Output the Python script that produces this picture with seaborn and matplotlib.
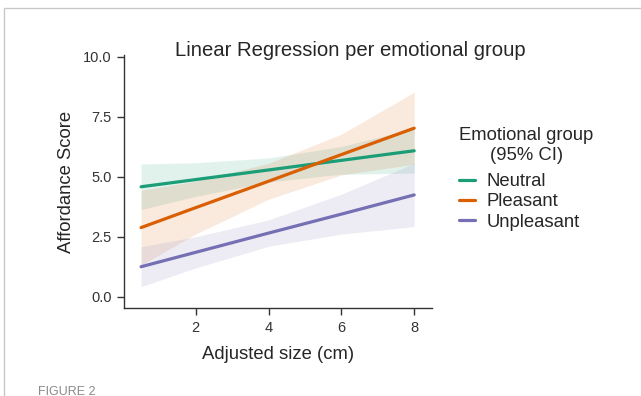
import numpy as np
import pandas as pd
import matplotlib
matplotlib.use("Agg")
import matplotlib.pyplot as plt
from matplotlib.patches import Rectangle
import seaborn as sns

# fitted lines
GROUPS = ["Neutral", "Pleasant", "Unpleasant"]
X_FIT = [0.5, 2, 4, 6, 8]
NEUTRAL_FIT = [4.58, 4.88, 5.28, 5.68, 6.08]
PLEASANT_FIT = [2.88, 3.71, 4.81, 5.92, 7.02]
UNPLEASANT_FIT = [1.25, 1.85, 2.65, 3.44, 4.24]

# 95% CI bounds at the same x positions
NEUTRAL_LO = [3.63, 4.18, 4.78, 5.10, 5.15]
NEUTRAL_HI = [5.53, 5.58, 5.78, 6.26, 7.01]
PLEASANT_LO = [1.32, 2.61, 4.06, 5.07, 5.52]
PLEASANT_HI = [4.44, 4.81, 5.56, 6.77, 8.52]
UNPLEASANT_LO = [0.42, 1.20, 2.10, 2.61, 2.92]
UNPLEASANT_HI = [2.08, 2.50, 3.20, 4.27, 5.56]

COLORS = ["#1b9e77", "#d95f02", "#7570b3"]

sns.set_theme(style="ticks")
plt.rcParams["font.family"] = ["Liberation Sans", "DejaVu Sans"]

lows = [NEUTRAL_LO, PLEASANT_LO, UNPLEASANT_LO]
highs = [NEUTRAL_HI, PLEASANT_HI, UNPLEASANT_HI]

df = pd.DataFrame({
    "x": X_FIT * 3,
    "y": NEUTRAL_FIT + PLEASANT_FIT + UNPLEASANT_FIT,
    "group": [g for g in GROUPS for _ in X_FIT],
})

fig = plt.figure(figsize=(6.41, 3.96), dpi=100)
ax = fig.add_axes([0.1934, 0.2222, 0.4806, 0.639])

for lo, hi, c in zip(lows, highs, COLORS):
    ax.fill_between(X_FIT, lo, hi, color=c, alpha=0.13, linewidth=0)

sns.lineplot(data=df, x="x", y="y", hue="group", palette=COLORS,
             linewidth=2.3, ax=ax, legend=True)

ax.set_xlim(0.03, 8.49)
ax.set_ylim(-0.47, 10.07)
ax.set_xticks([2, 4, 6, 8])
ax.set_yticks([0, 2.5, 5, 7.5, 10])
ax.set_yticklabels(["0.0", "2.5", "5.0", "7.5", "10.0"])
ax.tick_params(labelsize=10.5, length=5, width=1, pad=4,
               colors="#333333", labelcolor="#333333")
for s in ["left", "bottom"]:
    ax.spines[s].set_color("#333333")
    ax.spines[s].set_linewidth(1)
sns.despine(ax=ax)

ax.set_xlabel("Adjusted size (cm)", fontsize=13.3, labelpad=8)
ax.set_ylabel("Affordance Score", fontsize=13.3, labelpad=6)

fig.text(0.546, 1 - 51 / 396, "Linear Regression per emotional group",
         fontsize=14.6, ha="center", va="center")

handles, labels = ax.get_legend_handles_labels()
ax.get_legend().remove()
leg = fig.legend(handles, labels, title="Emotional group\n(95% CI)",
                 loc="upper left", bbox_to_anchor=(0.705, 1 - 120 / 396),
                 frameon=False, fontsize=13.3, title_fontsize=13.3,
                 handlelength=0.87, handletextpad=0.62, labelspacing=0.18,
                 borderaxespad=0)
leg.get_title().set_multialignment("center")
leg._legend_box.align = "left"
leg._legend_box.sep = 6.5
for h in leg.get_lines():
    h.set_linewidth(2.3)

# journal frame + caption
fig.patches.append(Rectangle((4 / 641, -0.1), 1.2, 1 - 8 / 396 + 0.1,
                             transform=fig.transFigure, fill=False,
                             edgecolor="#c8c8c8", linewidth=1))
fig.text(38 / 641, 1 - 386 / 396, "FIGURE 2", fontsize=9, color="#8a8a8a",
         ha="left", va="top")

fig.savefig("out.png", dpi=100)
